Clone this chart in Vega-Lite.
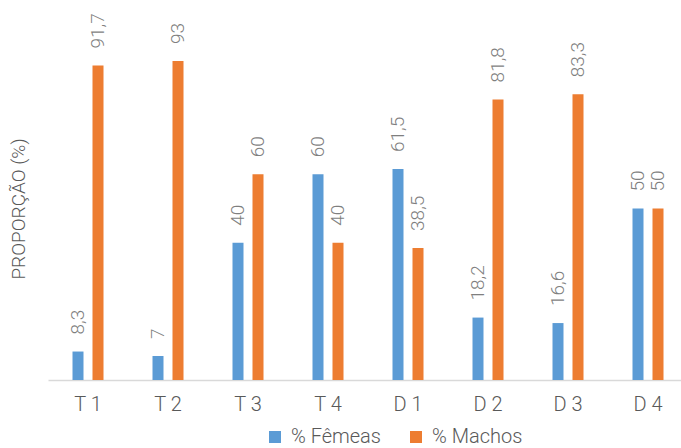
{
  "$schema": "https://vega.github.io/schema/vega-lite/v6.json",
  "autosize": "none",
  "width": 633,
  "height": 343,
  "padding": {"left": 48, "top": 37, "right": 0, "bottom": 68},
  "background": "white",
  "config": {
    "view": {"stroke": null},
    "font": "Roboto",
    "locale": {
      "number": {"decimal": ",", "thousands": ".", "grouping": [3], "currency": ["", ""]}
    }
  },
  "data": {
    "values": [
      {"grupo": "T1", "sexo": "% Fêmeas", "valor": 8.3},
      {"grupo": "T1", "sexo": "% Machos", "valor": 91.7},
      {"grupo": "T2", "sexo": "% Fêmeas", "valor": 7},
      {"grupo": "T2", "sexo": "% Machos", "valor": 93},
      {"grupo": "T3", "sexo": "% Fêmeas", "valor": 40},
      {"grupo": "T3", "sexo": "% Machos", "valor": 60},
      {"grupo": "T4", "sexo": "% Fêmeas", "valor": 60},
      {"grupo": "T4", "sexo": "% Machos", "valor": 40},
      {"grupo": "D1", "sexo": "% Fêmeas", "valor": 61.5},
      {"grupo": "D1", "sexo": "% Machos", "valor": 38.5},
      {"grupo": "D2", "sexo": "% Fêmeas", "valor": 18.2},
      {"grupo": "D2", "sexo": "% Machos", "valor": 81.8},
      {"grupo": "D3", "sexo": "% Fêmeas", "valor": 16.6},
      {"grupo": "D3", "sexo": "% Machos", "valor": 83.3},
      {"grupo": "D4", "sexo": "% Fêmeas", "valor": 50},
      {"grupo": "D4", "sexo": "% Machos", "valor": 50}
    ]
  },
  "encoding": {
    "x": {
      "field": "grupo",
      "type": "nominal",
      "sort": null,
      "scale": {"range": [0, 640], "paddingInner": 0.5, "paddingOuter": 0.25},
      "axis": {
        "title": null,
        "ticks": false,
        "labelAngle": 0,
        "labelPadding": 14,
        "labelFontSize": 20,
        "labelFontWeight": 300,
        "labelColor": "#595959",
        "domainColor": "#d9d9d9",
        "domainWidth": 1.5,
        "labelExpr": "substring(datum.label, 0, 1) + ' ' + substring(datum.label, 1)"
      }
    },
    "xOffset": {
      "field": "sexo",
      "type": "nominal",
      "scale": {"paddingInner": 0.45, "paddingOuter": 0.225}
    },
    "y": {
      "field": "valor",
      "type": "quantitative",
      "scale": {"domain": [0, 100]},
      "axis": {
        "title": "PROPORÇÃO (%)",
        "labels": false,
        "ticks": false,
        "domain": false,
        "grid": false,
        "titlePadding": 20,
        "titleFontSize": 19,
        "titleFontWeight": 300,
        "titleColor": "#595959"
      }
    }
  },
  "layer": [
    {
      "mark": {"type": "bar"},
      "encoding": {
        "color": {
          "field": "sexo",
          "type": "nominal",
          "scale": {"domain": ["% Fêmeas", "% Machos"], "range": ["#5B9BD5", "#ED7D31"]},
          "legend": {
            "title": null,
            "orient": "none",
            "direction": "horizontal",
            "legendX": 217,
            "legendY": 390,
            "symbolType": "square",
            "symbolSize": 144,
            "symbolStrokeWidth": 0,
            "labelFontSize": 20,
            "labelFontWeight": 300,
            "labelColor": "#595959",
            "columnPadding": 25,
            "labelOffset": 6
          }
        }
      }
    },
    {
      "mark": {
        "type": "text",
        "angle": 270,
        "align": "left",
        "baseline": "middle",
        "dx": 17,
        "fontSize": 19,
        "fontWeight": 300,
        "color": "#7f7f7f"
      },
      "encoding": {
        "text": {"field": "valor", "type": "quantitative", "format": ".3~r"}
      }
    }
  ]
}
